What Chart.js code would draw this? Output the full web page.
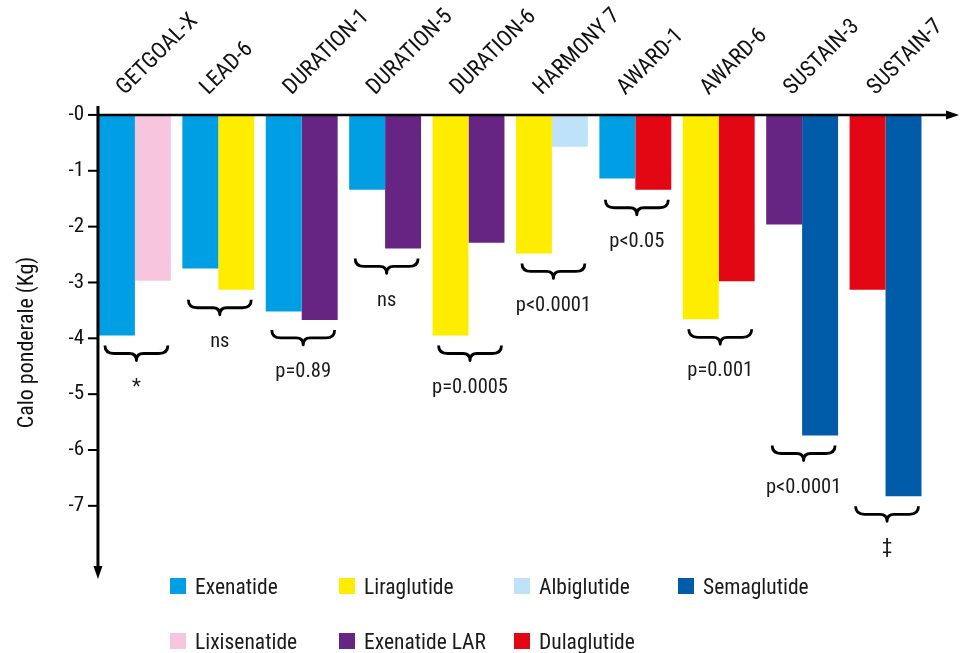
<!DOCTYPE html>
<html>
<head>
<meta charset="utf-8">
<script src="https://cdn.jsdelivr.net/npm/chart.js@4.4.1/dist/chart.umd.min.js"></script>
<style>
    html, body { margin: 0; padding: 0; background: #fff; }
    #wrap { position: relative; width: 960px; height: 653px; }
    #legend {
        position: absolute; left: 170px; top: 575px;
        display: grid; grid-template-columns: 169px 175px 164px auto;
        row-gap: 33px;
        font-family: 'Liberation Sans Narrow', 'Roboto Condensed', 'Arial Narrow', Roboto, sans-serif;
        font-size: 21.5px; color: #1a1a1a;
    }
    #legend .item { display: flex; align-items: center; height: 22px; }
    #legend .box { width: 16px; height: 16px; margin-right: 9px; }
</style>
</head>
<body>
<div id="wrap">
    <canvas id="chart"></canvas>
    <div id="legend"></div>
</div>
<script>
// weight change (kg) per trial, two arms each
const trials = ['GETGOAL-X', 'LEAD-6', 'DURATION-1', 'DURATION-5', 'DURATION-6',
    'HARMONY 7', 'AWARD-1', 'AWARD-6', 'SUSTAIN-3', 'SUSTAIN-7'];
const leftDrug = ['Exenatide', 'Exenatide', 'Exenatide', 'Exenatide', 'Liraglutide',
    'Liraglutide', 'Exenatide', 'Liraglutide', 'Exenatide LAR', 'Dulaglutide'];
const leftLoss = [-3.95, -2.75, -3.52, -1.34, -3.95, -2.48, -1.14, -3.66, -1.96, -3.13];
const rightDrug = ['Lixisenatide', 'Liraglutide', 'Exenatide LAR', 'Exenatide LAR', 'Exenatide LAR',
    'Albiglutide', 'Dulaglutide', 'Dulaglutide', 'Semaglutide', 'Semaglutide'];
const rightLoss = [-2.97, -3.13, -3.67, -2.39, -2.29, -0.57, -1.34, -2.98, -5.74, -6.83];
const pLabels = ['*', 'ns', 'p=0.89', 'ns', 'p=0.0005', 'p<0.0001', 'p<0.05', 'p=0.001', 'p<0.0001', '\u2021'];
const legendOrder = ['Exenatide', 'Liraglutide', 'Albiglutide', 'Semaglutide',
    'Lixisenatide', 'Exenatide LAR', 'Dulaglutide'];
const yTicks = [0, -1, -2, -3, -4, -5, -6, -7];

const drugColors = {
    'Exenatide': '#009fe3',
    'Lixisenatide': '#f7c6de',
    'Liraglutide': '#ffed00',
    'Exenatide LAR': '#662483',
    'Albiglutide': '#bee3f8',
    'Dulaglutide': '#e30613',
    'Semaglutide': '#005ca8'
};

const FONT = "'Liberation Sans Narrow', 'Roboto Condensed', 'Arial Narrow', Roboto, sans-serif";

function axisX(chart) {
    const bar = chart.getDatasetMeta(0).data[0];
    return bar.x - bar.width / 2 - 1;
}

const axesPlugin = {
    id: 'axesArrows',
    afterDatasetsDraw(chart) {
        const ctx = chart.ctx;
        const area = chart.chartArea;
        const y = chart.scales.y;
        const ax = axisX(chart);
        const y0 = y.getPixelForValue(0);
        ctx.save();
        ctx.strokeStyle = '#000';
        ctx.fillStyle = '#000';

        // horizontal axis along zero
        ctx.lineWidth = 2.5;
        ctx.beginPath();
        ctx.moveTo(ax, y0);
        ctx.lineTo(chart.width - 12, y0);
        ctx.stroke();
        ctx.beginPath();
        ctx.moveTo(chart.width - 1, y0);
        ctx.lineTo(chart.width - 14, y0 - 4.5);
        ctx.lineTo(chart.width - 14, y0 + 4.5);
        ctx.closePath();
        ctx.fill();

        // vertical axis
        ctx.lineWidth = 3;
        ctx.beginPath();
        ctx.moveTo(ax, area.top);
        ctx.lineTo(ax, area.bottom - 10);
        ctx.stroke();
        ctx.beginPath();
        ctx.moveTo(ax, area.bottom);
        ctx.lineTo(ax - 4.5, area.bottom - 13);
        ctx.lineTo(ax + 4.5, area.bottom - 13);
        ctx.closePath();
        ctx.fill();

        ctx.lineWidth = 2;
        yTicks.forEach(function (v) {
            const py = y.getPixelForValue(v);
            ctx.beginPath();
            ctx.moveTo(ax - 10, py);
            ctx.lineTo(ax, py);
            ctx.stroke();
        });

        // braces + p values under each pair
        const m0 = chart.getDatasetMeta(0).data;
        const m1 = chart.getDatasetMeta(1).data;
        ctx.lineWidth = 2.8;
        ctx.lineJoin = 'round';
        ctx.font = '20.5px ' + FONT;
        ctx.textAlign = 'center';
        ctx.textBaseline = 'middle';
        for (let i = 0; i < trials.length; i++) {
            const a = m0[i], b = m1[i];
            const bottom = Math.max(a.y, b.y);
            const xl = a.x - a.width / 2 + 6;
            const xr = b.x + b.width / 2 - 3;
            const xc = (xl + xr) / 2;
            const top = bottom + 10;
            const mid = top + 8;
            const tip = top + 15;
            ctx.beginPath();
            ctx.moveTo(xl, top);
            ctx.quadraticCurveTo(xl, mid, xl + 9, mid);
            ctx.lineTo(xc - 7, mid);
            ctx.quadraticCurveTo(xc, mid, xc, tip);
            ctx.quadraticCurveTo(xc, mid, xc + 7, mid);
            ctx.lineTo(xr - 9, mid);
            ctx.quadraticCurveTo(xr, mid, xr, top);
            ctx.stroke();
            ctx.fillStyle = '#1a1a1a';
            ctx.fillText(pLabels[i], xc, bottom + 52);
        }
        ctx.restore();
    }
};

const ctx = document.getElementById('chart').getContext('2d');
new Chart(ctx, {
    type: 'bar',
    data: {
        labels: trials,
        datasets: [
            { label: 'A', data: leftLoss, backgroundColor: leftDrug.map(d => drugColors[d]) },
            { label: 'B', data: rightLoss, backgroundColor: rightDrug.map(d => drugColors[d]) }
        ]
    },
    options: {
        responsive: true,
        maintainAspectRatio: false,
        animation: false,
        layout: { padding: { top: 0, left: 0, right: 31, bottom: 74 } },
        datasets: { bar: { barPercentage: 1.0, categoryPercentage: 0.862, borderWidth: 0 } },
        plugins: { legend: { display: false }, tooltip: { enabled: false } },
        scales: {
            x: {
                position: 'top',
                grid: { display: false, drawTicks: false },
                border: { display: false },
                ticks: {
                    autoSkip: false, minRotation: 45, maxRotation: 45,
                    padding: 5, labelOffset: 5,
                    color: '#111', font: { family: FONT, size: 22.5 }
                },
                afterFit: function (s) { s.height = 106; }
            },
            y: {
                min: -8.31, max: 0.16,
                grid: { display: false, drawTicks: false },
                border: { display: false },
                afterBuildTicks: function (s) { s.ticks = yTicks.map(v => ({ value: v })); },
                ticks: {
                    padding: 9, color: '#111', font: { family: FONT, size: 21 },
                    callback: v => (v === 0 ? '-0' : String(v))
                },
                title: {
                    display: true, text: 'Calo ponderale (Kg)', color: '#111',
                    font: { family: FONT, size: 22 }, padding: { top: 14 }
                },
                afterFit: function (s) { s.width = 93.2; }
            }
        }
    },
    plugins: [axesPlugin]
});

const legend = document.getElementById('legend');
legendOrder.forEach(function (name) {
    const item = document.createElement('div');
    item.className = 'item';
    const box = document.createElement('span');
    box.className = 'box';
    box.style.background = drugColors[name];
    const txt = document.createElement('span');
    txt.textContent = name;
    item.appendChild(box);
    item.appendChild(txt);
    legend.appendChild(item);
});
</script>
</body>
</html>
